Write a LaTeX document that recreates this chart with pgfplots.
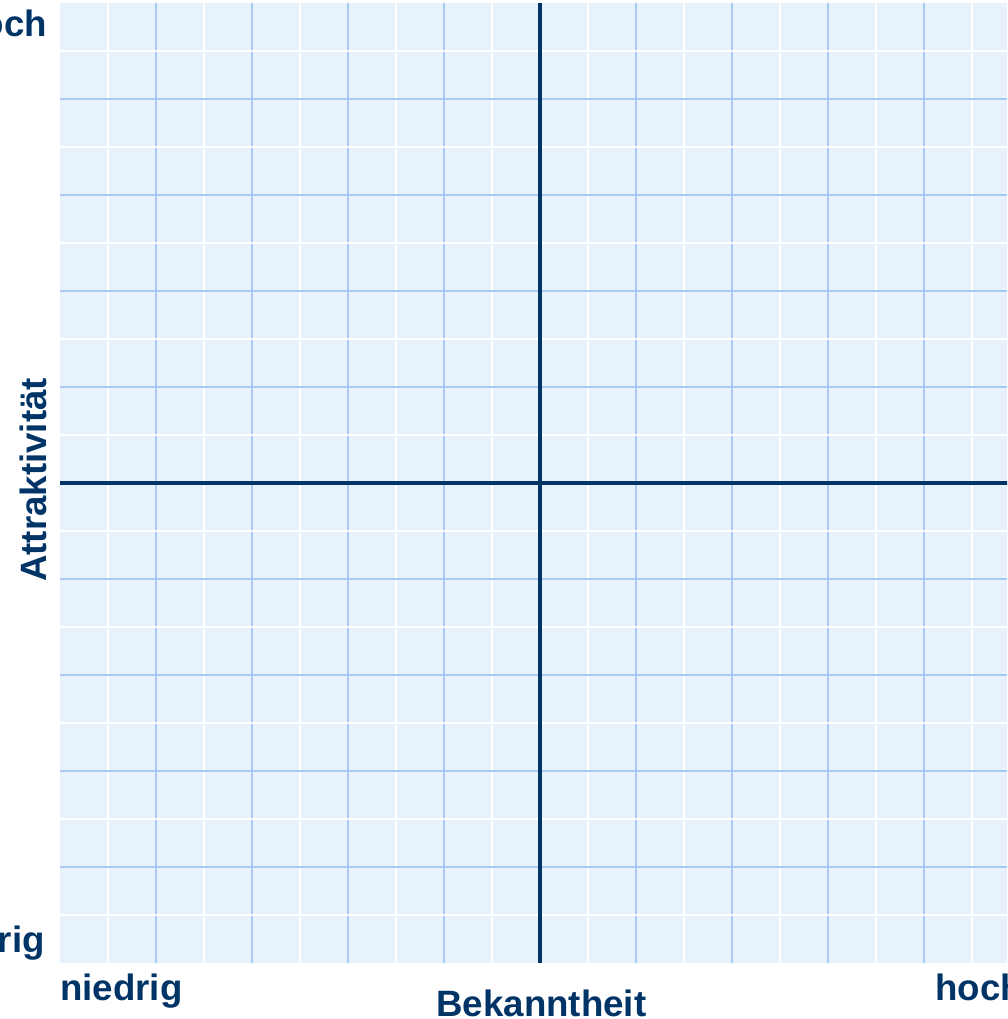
\documentclass[border=0pt]{standalone}
\usepackage{pgfplots}
\pgfplotsset{compat=1.18}
\usepackage{fontspec}
\setmainfont{Liberation Sans}
\definecolor{navy}{RGB}{0,51,102}
\definecolor{bgblue}{RGB}{232,242,253}
\definecolor{gridblue}{RGB}{168,200,245}
\begin{document}
\begin{tikzpicture}
\useasboundingbox (-45pt,-42pt) rectangle (710.25pt,722.25pt);
\clip (-45pt,-42pt) rectangle (710.25pt,722.25pt);
\begin{axis}[
  at={(0pt,0pt)}, anchor=south west,
  scale only axis, width=720pt, height=720pt,
  xmin=0, xmax=10, ymin=0, ymax=10,
  xtick={1,...,9}, ytick={1,...,9},
  minor xtick={0.5,1.5,...,9.5}, minor ytick={0.5,1.5,...,9.5},
  xticklabels={}, yticklabels={},
  grid=both,
  major grid style={draw=gridblue, line width=1.5pt},
  minor grid style={draw=white, line width=1.5pt},
  major tick length=0pt, minor tick length=0pt,
  tick style={draw=none},
  axis line style={draw=none},
  axis background/.style={fill=bgblue},
]
\addplot[navy, line width=3pt] coordinates {(5,0) (5,10)};
\addplot[navy, line width=3pt] coordinates {(0,5) (10,5)};
\end{axis}
\begin{scope}[every node/.style={font=\fontsize{27.5pt}{32pt}\selectfont\bfseries, text=navy, inner sep=0pt}]
\node[anchor=base] at (361pt,-39.75pt) {Bekanntheit};
\node[anchor=base west] at (0pt,-27.75pt) {niedrig};
\node[anchor=base west] at (656.25pt,-27.75pt) {hoch};
\node[anchor=base east] at (-9.5pt,694.5pt) {hoch};
\node[anchor=base east] at (-11.25pt,7.5pt) {niedrig};
\node[anchor=base, rotate=90] at (-10.5pt,362.25pt) {Attraktivität};
\end{scope}
\end{tikzpicture}
\end{document}
